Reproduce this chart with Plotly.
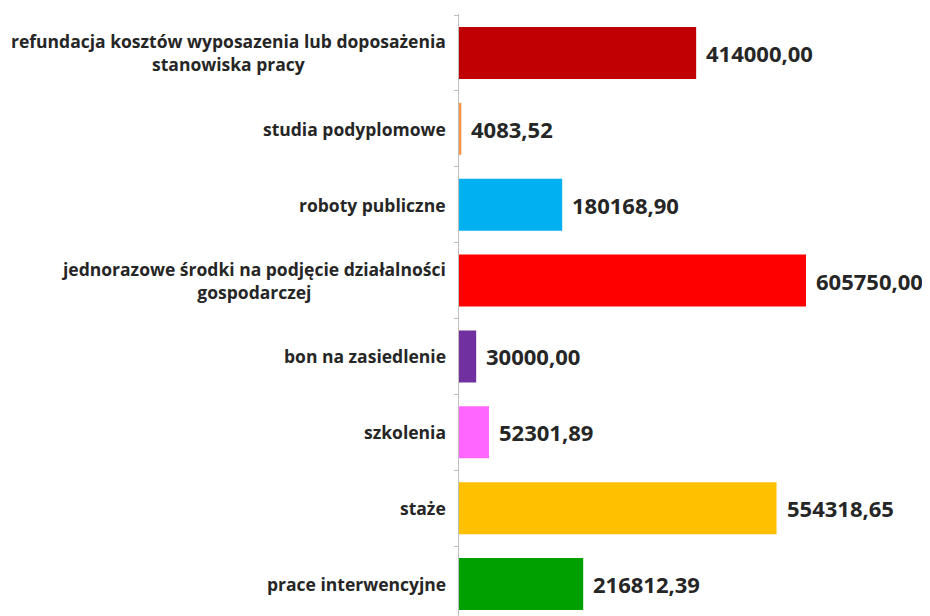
import plotly.graph_objects as go

categories = [
    "prace interwencyjne",
    "staże",
    "szkolenia",
    "bon na zasiedlenie",
    "jednorazowe środki na podjęcie działalności<br>gospodarczej",
    "roboty publiczne",
    "studia podyplomowe",
    "refundacja kosztów wyposazenia lub doposażenia<br>stanowiska pracy",
]
values = [216812.39, 554318.65, 52301.89, 30000.00, 605750.00, 180168.90, 4083.52, 414000.00]
value_labels = ["216812,39", "554318,65", "52301,89", "30000,00", "605750,00", "180168,90", "4083,52", "414000,00"]
colors = ["#00A000", "#FFC000", "#FF66FF", "#7030A0", "#FF0000", "#00B0F0", "#F79646", "#C00000"]

fig = go.Figure()
fig.add_trace(go.Bar(
    y=list(range(len(categories))),
    x=values,
    orientation="h",
    marker=dict(color=colors, line=dict(width=0)),
    width=0.685,
    hoverinfo="skip",
))

annotations = []
for i, (v, lab) in enumerate(zip(values, value_labels)):
    annotations.append(dict(
        x=v, y=i, xref="x", yref="y", text="<b>" + lab + "</b>", showarrow=False,
        xanchor="left", yanchor="middle", xshift=8,
        font=dict(family="Open Sans", size=22, color="#262626"),
    ))
for i, c in enumerate(categories):
    annotations.append(dict(
        x=0, y=i, xref="paper", yref="y", text="<b>" + c + "</b>", showarrow=False,
        xanchor="right", yanchor="middle", xshift=-11, align="center",
        font=dict(family="Open Sans", size=17.5, color="#262626"),
    ))

fig.update_layout(
    width=930, height=616,
    margin=dict(l=451, r=0, t=6, b=0),
    paper_bgcolor="white", plot_bgcolor="white",
    showlegend=False,
    annotations=annotations,
    xaxis=dict(range=[0, 836170], visible=False, fixedrange=True),
    yaxis=dict(
        range=[-0.527, 7.514],
        tickmode="array", tickvals=[i + 0.5 for i in range(-1, 8)],
        showticklabels=False,
        ticks="outside", ticklen=4, tickcolor="#BFBFBF",
        showline=True, linecolor="#BFBFBF", linewidth=1,
        showgrid=False, zeroline=False, fixedrange=True,
    ),
)

fig.write_html("out.html")
